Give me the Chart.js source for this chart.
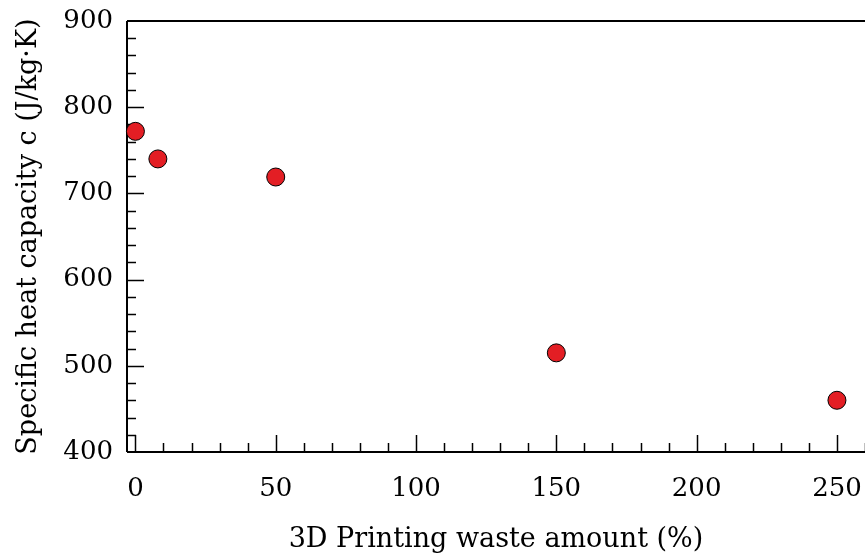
<!DOCTYPE html>
<html><head><meta charset="utf-8">
<script src="https://cdn.jsdelivr.net/npm/chart.js@4"></script>
<style>html,body{margin:0;padding:0;background:#fff}#wrap{width:865px;height:556px}</style>
</head><body><div id="wrap"><canvas id="c" width="865" height="556"></canvas></div>
<script>
// Specific heat capacity versus 3D printing waste content
const wasteAmount = [0, 8, 50, 150, 250];
const specificHeat = [772, 740, 719, 515, 460];
const xTicks = [0, 50, 100, 150, 200, 250];
const yTicks = [400, 500, 600, 700, 800, 900];

const FONT = 'DejaVu Serif';

// Axis frame with inward major/minor tick marks
const frame = {
  id: 'frame',
  beforeDatasetsDraw(chart) {
    const {ctx, chartArea: a, scales: {x, y}} = chart;
    ctx.save();
    ctx.strokeStyle = '#000';
    ctx.lineWidth = 2;
    ctx.beginPath();
    ctx.moveTo(a.left, a.top); ctx.lineTo(a.right, a.top);
    ctx.moveTo(a.left, a.top); ctx.lineTo(a.left, a.bottom);
    ctx.moveTo(a.left, a.bottom); ctx.lineTo(a.right, a.bottom);
    ctx.stroke();
    ctx.lineWidth = 1.5;
    ctx.beginPath();
    for (let v = 0; v <= x.max; v += 10) {
      const px = Math.round(x.getPixelForValue(v)) + 0.5;
      const len = v % 50 === 0 ? 17 : 9;
      ctx.moveTo(px, a.bottom); ctx.lineTo(px, a.bottom - len);
    }
    for (let v = y.min + 20; v < y.max; v += 20) {
      const py = Math.round(y.getPixelForValue(v)) + 0.5;
      const len = v % 100 === 0 ? 17 : 9;
      ctx.moveTo(a.left, py); ctx.lineTo(a.left + len, py);
    }
    ctx.stroke();
    ctx.restore();
  }
};

new Chart(document.getElementById('c'), {
  type: 'scatter',
  data: {
    datasets: [{
      data: wasteAmount.map((v, i) => ({x: v, y: specificHeat[i]})),
      backgroundColor: '#e31e24',
      borderColor: '#000',
      borderWidth: 1,
      pointRadius: 9,
      pointHoverRadius: 9,
      clip: false
    }]
  },
  options: {
    responsive: false,
    devicePixelRatio: 1,
    animation: false,
    layout: {autoPadding: false, padding: {top: 21, right: 0, left: 0, bottom: 0}},
    plugins: {legend: {display: false}, tooltip: {enabled: false}},
    scales: {
      x: {
        type: 'linear', min: -3, max: 260,
        grid: {display: false, drawTicks: false},
        border: {display: false},
        afterBuildTicks: s => { s.ticks = xTicks.map(v => ({value: v})); },
        afterFit: s => { s.height = 104; s.paddingLeft = 0; s.paddingRight = 0; },
        ticks: {color: '#000', padding: 22, maxRotation: 0, font: {family: FONT, size: 26}},
        title: {display: true, text: '3D Printing waste amount (%)', color: '#000',
                padding: {top: 0, bottom: 0}, font: {family: FONT, size: 27}}
      },
      y: {
        type: 'linear', min: 400, max: 900,
        grid: {display: false, drawTicks: false},
        border: {display: false},
        afterBuildTicks: s => { s.ticks = yTicks.map(v => ({value: v})); },
        afterFit: s => { s.width = 127; s.paddingTop = 0; s.paddingBottom = 0; },
        ticks: {color: '#000', padding: 14, font: {family: FONT, size: 26}},
        title: {display: true, text: 'Specific heat capacity c (J/kg\u00b7K)', color: '#000',
                padding: {top: 13, bottom: 0}, font: {family: FONT, size: 27}}
      }
    }
  },
  plugins: [frame]
});
</script>
</body></html>
